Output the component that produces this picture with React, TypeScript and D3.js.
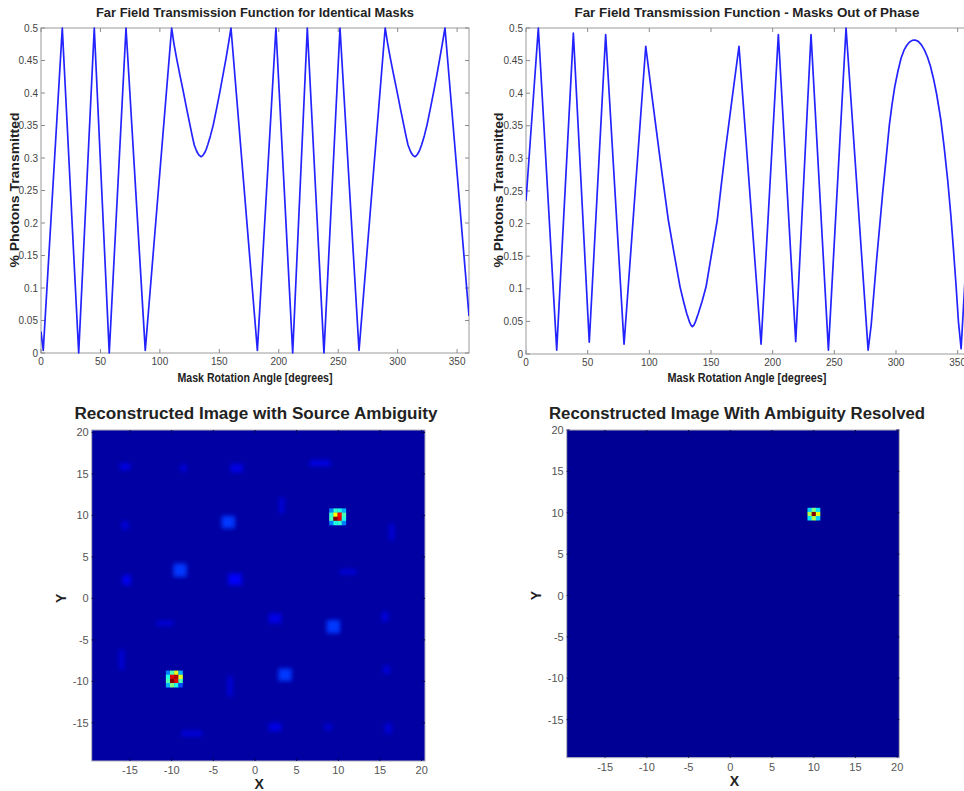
import React from "react";
import * as d3 from "d3";

// ---------- Data ----------
const angleTicks = [0, 50, 100, 150, 200, 250, 300, 350];
const pctTicks = [0, 0.05, 0.1, 0.15, 0.2, 0.25, 0.3, 0.35, 0.4, 0.45, 0.5];
const pctTickLabels = ["0", "0.05", "0.1", "0.15", "0.2", "0.25", "0.3", "0.35", "0.4", "0.45", "0.5"];

// Identical masks: [angle, fraction]
const identicalCurve: [number, number][] = [
  [0, 0.033], [1.9, 0.004], [17.9, 0.5], [31.7, 0.0], [44.8, 0.5], [57.4, 0.0],
  [71.5, 0.5], [87.7, 0.004], [109.9, 0.5],
  [111.8, 0.476], [114.1, 0.453], [116.9, 0.427], [119.7, 0.402], [122.5, 0.376],
  [125.3, 0.351], [127.2, 0.334], [128.9, 0.32], [130.4, 0.313], [131.6, 0.308],
  [133.1, 0.304], [134.7, 0.302], [136.2, 0.304], [137.6, 0.308], [138.9, 0.313],
  [140.2, 0.32], [142.5, 0.334], [144.9, 0.351], [147.7, 0.376], [150.5, 0.402],
  [153, 0.427], [155.6, 0.453], [157.7, 0.476], [159.8, 0.5],
  [182, 0.004], [197.6, 0.5], [211.7, 0.0], [224, 0.5], [238, 0.0], [251.5, 0.5],
  [267.5, 0.004], [289.5, 0.5],
  [291.6, 0.476], [293.9, 0.453], [296.7, 0.427], [299.5, 0.402], [302.3, 0.376],
  [305.1, 0.351], [307, 0.334], [308.7, 0.32], [310.2, 0.313], [311.4, 0.308],
  [312.9, 0.304], [314.5, 0.302], [316, 0.304], [317.4, 0.308], [318.7, 0.313],
  [320.1, 0.32], [322.4, 0.334], [324.7, 0.351], [327.5, 0.376], [330.3, 0.402],
  [332.9, 0.427], [335.4, 0.453], [337.6, 0.476], [339.8, 0.5],
  [360, 0.057],
];

// Masks out of phase: [angle, fraction]
const outOfPhaseCurve: [number, number][] = [
  [0, 0.235], [10, 0.5], [24.9, 0.006], [38.4, 0.492], [51.3, 0.018], [64.6, 0.49],
  [79.5, 0.015], [97.1, 0.472],
  [102.5, 0.39], [108.1, 0.308], [111.7, 0.257], [115.4, 0.2055], [120.1, 0.154],
  [124.9, 0.103], [127.7, 0.081], [130.3, 0.062], [131.6, 0.055], [132.8, 0.048],
  [133.9, 0.044], [134.9, 0.042], [136, 0.044], [137.1, 0.048], [138.4, 0.055],
  [139.7, 0.062], [142.8, 0.081], [146, 0.103], [150.5, 0.154], [155.1, 0.2055],
  [158.2, 0.257], [161.4, 0.308], [167, 0.39], [172.7, 0.472],
  [190.6, 0.015], [204.6, 0.49], [218.7, 0.019], [231.1, 0.49], [245.2, 0.006],
  [259.5, 0.5], [277.4, 0.006],
  [279.9, 0.0445], [284.4, 0.147], [289.3, 0.249], [292, 0.3], [294.6, 0.351],
  [296.8, 0.383], [299, 0.41], [301.6, 0.434], [304.1, 0.4535], [306.5, 0.466],
  [308.8, 0.4735], [311, 0.4785], [313.2, 0.481], [315.5, 0.4816], [318, 0.4795],
  [320.5, 0.4745], [323, 0.4665], [325.5, 0.4555], [328, 0.441], [330.5, 0.4215],
  [333, 0.398], [336.3, 0.36], [339, 0.318], [342, 0.265], [344.5, 0.212],
  [346.6, 0.16], [348.7, 0.105], [350.6, 0.05], [352.8, 0.008], [360, 0.25],
];

const mapTicks = [-15, -10, -5, 0, 5, 10, 15, 20];

// Heatmap: faint side-lobes {x, y, w, h, v} in data units (left map)
const ambiguityBlobs = [
  { x: -3.2, y: 9.2, w: 1.6, h: 1.5, v: 0.18 },
  { x: -9.0, y: 3.4, w: 1.6, h: 1.6, v: 0.18 },
  { x: 9.4, y: -3.4, w: 1.6, h: 1.6, v: 0.18 },
  { x: 3.6, y: -9.2, w: 1.6, h: 1.5, v: 0.18 },
  { x: -2.4, y: 2.3, w: 1.6, h: 1.4, v: 0.12 },
  { x: -2.2, y: 15.7, w: 1.5, h: 1.0, v: 0.1 },
  { x: 7.8, y: 16.3, w: 2.5, h: 0.7, v: 0.1 },
  { x: -15.6, y: 15.9, w: 1.2, h: 0.8, v: 0.1 },
  { x: -8.6, y: 15.7, w: 0.8, h: 0.8, v: 0.09 },
  { x: 3.2, y: 11.2, w: 0.6, h: 2.0, v: 0.09 },
  { x: -15.6, y: 8.8, w: 0.8, h: 1.0, v: 0.09 },
  { x: 16.4, y: 8.0, w: 0.6, h: 2.0, v: 0.09 },
  { x: -15.4, y: 2.2, w: 1.0, h: 1.2, v: 0.11 },
  { x: 11.2, y: 3.2, w: 2.0, h: 0.6, v: 0.09 },
  { x: 2.4, y: -2.4, w: 1.5, h: 1.2, v: 0.1 },
  { x: -10.8, y: -3.0, w: 2.0, h: 0.6, v: 0.09 },
  { x: 15.6, y: -2.2, w: 0.8, h: 1.2, v: 0.09 },
  { x: -16.0, y: -7.4, w: 0.6, h: 2.4, v: 0.09 },
  { x: -3.0, y: -10.6, w: 0.6, h: 2.4, v: 0.09 },
  { x: 15.8, y: -8.6, w: 0.8, h: 1.0, v: 0.09 },
  { x: 2.4, y: -15.5, w: 1.5, h: 1.0, v: 0.1 },
  { x: -7.6, y: -16.3, w: 2.5, h: 0.7, v: 0.09 },
  { x: 8.8, y: -15.5, w: 0.8, h: 0.8, v: 0.09 },
  { x: 16.0, y: -15.7, w: 0.8, h: 1.2, v: 0.09 },
];

// Hot spots: center, cell size 0.5, matrix rows top->bottom
const spotA = { cx: 9.9, cy: 9.85, cells: [
  [0.25, 0.42, 0.4, 0.3],
  [0.42, 0.62, 0.88, 0.45],
  [0.45, 1.0, 0.9, 0.4],
  [0.25, 0.4, 0.42, 0.25],
] };
const spotB = { cx: -9.7, cy: -9.7, cells: [
  [0.25, 0.45, 0.6, 0.3],
  [0.4, 0.9, 0.95, 0.6],
  [0.45, 1.0, 0.9, 0.45],
  [0.3, 0.5, 0.4, 0.2],
] };
const spotResolved = { cx: 10.0, cy: 9.85, cells: [
  [0.33, 0.5, 0.35],
  [0.55, 1.0, 0.6],
  [0.35, 0.55, 0.33],
] };

// ---------- helpers ----------
const FONT = "'Liberation Sans', Arial, Helvetica, sans-serif";
const clamp = (v: number) => Math.max(0, Math.min(1, v));
function jet(t: number) {
  const r = clamp(1.5 - Math.abs(4 * t - 3));
  const g = clamp(1.5 - Math.abs(4 * t - 2));
  const b = clamp(1.5 - Math.abs(4 * t - 1));
  return d3.rgb(r * 255, g * 255, b * 255).formatHex();
}

type LineProps = {
  id: string;
  data: [number, number][];
  x0: number; x1: number; y0: number; y1: number;
  title: string; titleLen: number;
  xlabelLen: number; ylabelX: number; midX: number;
};

function LinePanel(p: LineProps) {
  const x = d3.scaleLinear().domain([0, 360]).range([p.x0, p.x1]);
  const y = d3.scaleLinear().domain([0, 0.5]).range([p.y0, p.y1]);
  const line = d3.line<[number, number]>().x((d) => x(d[0])).y((d) => y(d[1])).curve(d3.curveLinear);
  const tick = 4;
  return (
    <g>
      <defs>
        <clipPath id={`clip-${p.id}`}>
          <rect x={p.x0} y={p.y1 - 2} width={p.x1 - p.x0} height={p.y0 - p.y1 + 4} />
        </clipPath>
      </defs>
      <rect x={p.x0} y={p.y1} width={p.x1 - p.x0} height={p.y0 - p.y1} fill="#fff" stroke="#9a9a9a" strokeWidth={1} />
      {angleTicks.map((t) => (
        <g key={`xt${t}`}>
          <line x1={x(t)} x2={x(t)} y1={p.y0} y2={p.y0 - tick} stroke="#8a8a8a" />
          <line x1={x(t)} x2={x(t)} y1={p.y1} y2={p.y1 + tick} stroke="#8a8a8a" />
          <text x={x(t)} y={p.y0 + 12} fontSize={10} fill="#444" textAnchor="middle" fontFamily={FONT}>{t}</text>
        </g>
      ))}
      {pctTicks.map((t, i) => (
        <g key={`yt${t}`}>
          <line x1={p.x0} x2={p.x0 + tick} y1={y(t)} y2={y(t)} stroke="#8a8a8a" />
          <line x1={p.x1} x2={p.x1 - tick} y1={y(t)} y2={y(t)} stroke="#8a8a8a" />
          <text x={p.x0 - 3} y={y(t) + 3.5} fontSize={10} fill="#444" textAnchor="end" fontFamily={FONT}>{pctTickLabels[i]}</text>
        </g>
      ))}
      <path d={line(p.data) || ""} fill="none" stroke="#2323ff" strokeWidth={1.7} strokeLinejoin="round" clipPath={`url(#clip-${p.id})`} />
      <text x={p.midX} y={17} fontSize={13} fontWeight="bold" fill="#222" textAnchor="middle" fontFamily={FONT}
        textLength={p.titleLen} lengthAdjust="spacingAndGlyphs">{p.title}</text>
      <text x={p.midX} y={382} fontSize={12} fontWeight="bold" fill="#222" textAnchor="middle" fontFamily={FONT}
        textLength={p.xlabelLen} lengthAdjust="spacingAndGlyphs">Mask Rotation Angle [degrees]</text>
      <text transform={`translate(${p.ylabelX},190) rotate(-90)`} fontSize={12} fontWeight="bold" fill="#222"
        textAnchor="middle" fontFamily={FONT} textLength={155} lengthAdjust="spacingAndGlyphs">% Photons Transmitted</text>
    </g>
  );
}

type Spot = { cx: number; cy: number; cells: number[][] };
type MapProps = {
  id: string;
  xr: [number, number]; yr: [number, number];
  xd: [number, number]; yd: [number, number];
  bg: number;
  blobs: typeof ambiguityBlobs;
  spots: Spot[];
  title: string; titleX: number; titleLen: number;
  yLabelX: number; xLabelY: number; xTickY: number;
};

function MapPanel(p: MapProps) {
  const x = d3.scaleLinear().domain(p.xd).range(p.xr);
  const y = d3.scaleLinear().domain(p.yd).range(p.yr);
  const k = x(1) - x(0);
  const ky = y(0) - y(1);
  const left = p.xr[0], right = p.xr[1], top = p.yr[1], bottom = p.yr[0];
  const cell = 0.5;
  return (
    <g>
      <defs>
        <clipPath id={`mclip-${p.id}`}>
          <rect x={left} y={top} width={right - left} height={bottom - top} />
        </clipPath>
        <filter id={`blur-${p.id}`} x="-50%" y="-50%" width="200%" height="200%">
          <feGaussianBlur stdDeviation={2.1} />
        </filter>
        <filter id={`sblur-${p.id}`} x="-50%" y="-50%" width="200%" height="200%">
          <feGaussianBlur stdDeviation={0.7} />
        </filter>
      </defs>
      <g clipPath={`url(#mclip-${p.id})`}>
        <rect x={left} y={top} width={right - left} height={bottom - top} fill={jet(p.bg)} />
        <g filter={`url(#blur-${p.id})`}>
          {p.blobs.map((b, i) => (
            <rect key={i} x={x(b.x - b.w / 2)} y={y(b.y + b.h / 2)} width={b.w * k} height={b.h * ky} fill={jet(b.v)} />
          ))}
        </g>
        <g filter={`url(#sblur-${p.id})`}>
          {p.spots.map((s, si) => {
            const n = s.cells.length;
            const x0 = s.cx - (n * cell) / 2;
            const yTop = s.cy + (n * cell) / 2;
            return s.cells.map((row, r) =>
              row.map((v, c) => (
                <rect key={`${si}-${r}-${c}`} x={x(x0 + c * cell)} y={y(yTop - r * cell)}
                  width={cell * k + 0.3} height={cell * ky + 0.3} fill={jet(v)} />
              ))
            );
          })}
        </g>
      </g>
      <rect x={left} y={top} width={right - left} height={bottom - top} fill="none" stroke="#b0b0b8" strokeWidth={1} />
      {mapTicks.map((t) => (
        <g key={`mx${t}`}>
          <line x1={x(t)} x2={x(t)} y1={top} y2={top + 3} stroke="#000060" />
          <line x1={x(t)} x2={x(t)} y1={bottom} y2={bottom - 3} stroke="#000060" />
          <text x={x(t)} y={p.xTickY} fontSize={11} fill="#555" textAnchor="middle" fontFamily={FONT}>{t}</text>
        </g>
      ))}
      {mapTicks.map((t) => (
        <g key={`my${t}`}>
          <line x1={left} x2={left + 3} y1={y(t)} y2={y(t)} stroke="#000060" />
          <line x1={right} x2={right - 3} y1={y(t)} y2={y(t)} stroke="#000060" />
          <text x={left - 3} y={y(t) + 4} fontSize={11} fill="#555" textAnchor="end" fontFamily={FONT}>{t}</text>
        </g>
      ))}
      <text x={p.titleX} y={419} fontSize={16} fontWeight="bold" fill="#222" textAnchor="middle" fontFamily={FONT}
        textLength={p.titleLen} lengthAdjust="spacingAndGlyphs">{p.title}</text>
      <text x={x(0.5)} y={p.xLabelY} fontSize={14} fontWeight="bold" fill="#222" textAnchor="middle" fontFamily={FONT}>X</text>
      <text transform={`translate(${p.yLabelX},${y(0)}) rotate(-90)`} fontSize={14} fontWeight="bold" fill="#222"
        textAnchor="middle" fontFamily={FONT}>Y</text>
    </g>
  );
}

export default function App() {
  return (
    <svg width={964} height={791} style={{ position: "absolute", left: 0, top: 0, background: "#fff" }}>
      <rect x={0} y={0} width={964} height={791} fill="#fff" />
      <LinePanel id="l" data={identicalCurve} x0={41} x1={469} y0={353} y1={28} midX={255}
        title="Far Field Transmission Function for Identical Masks" titleLen={318} xlabelLen={155} ylabelX={19} />
      <LinePanel id="r" data={outOfPhaseCurve} x0={526} x1={970} y0={354} y1={28} midX={747}
        title="Far Field Transmission Function - Masks Out of Phase" titleLen={345} xlabelLen={159} ylabelX={503} />
      <MapPanel id="ml" xr={[91.7, 425]} yr={[761, 430]} xd={[-19.6, 20.4]} yd={[-19.6, 20.3]}
        bg={0.035} blobs={ambiguityBlobs} spots={[spotA, spotB]}
        title="Reconstructed Image with Source Ambiguity" titleX={256} titleLen={363}
        yLabelX={66} xLabelY={789} xTickY={774} />
      <MapPanel id="mr" xr={[566.7, 899.3]} yr={[757.7, 430]} xd={[-19.6, 20.25]} yd={[-19.6, 20.0]}
        bg={0.02} blobs={[]} spots={[spotResolved]}
        title="Reconstructed Image With Ambiguity Resolved" titleX={737} titleLen={376}
        yLabelX={541} xLabelY={786} xTickY={771} />
    </svg>
  );
}
